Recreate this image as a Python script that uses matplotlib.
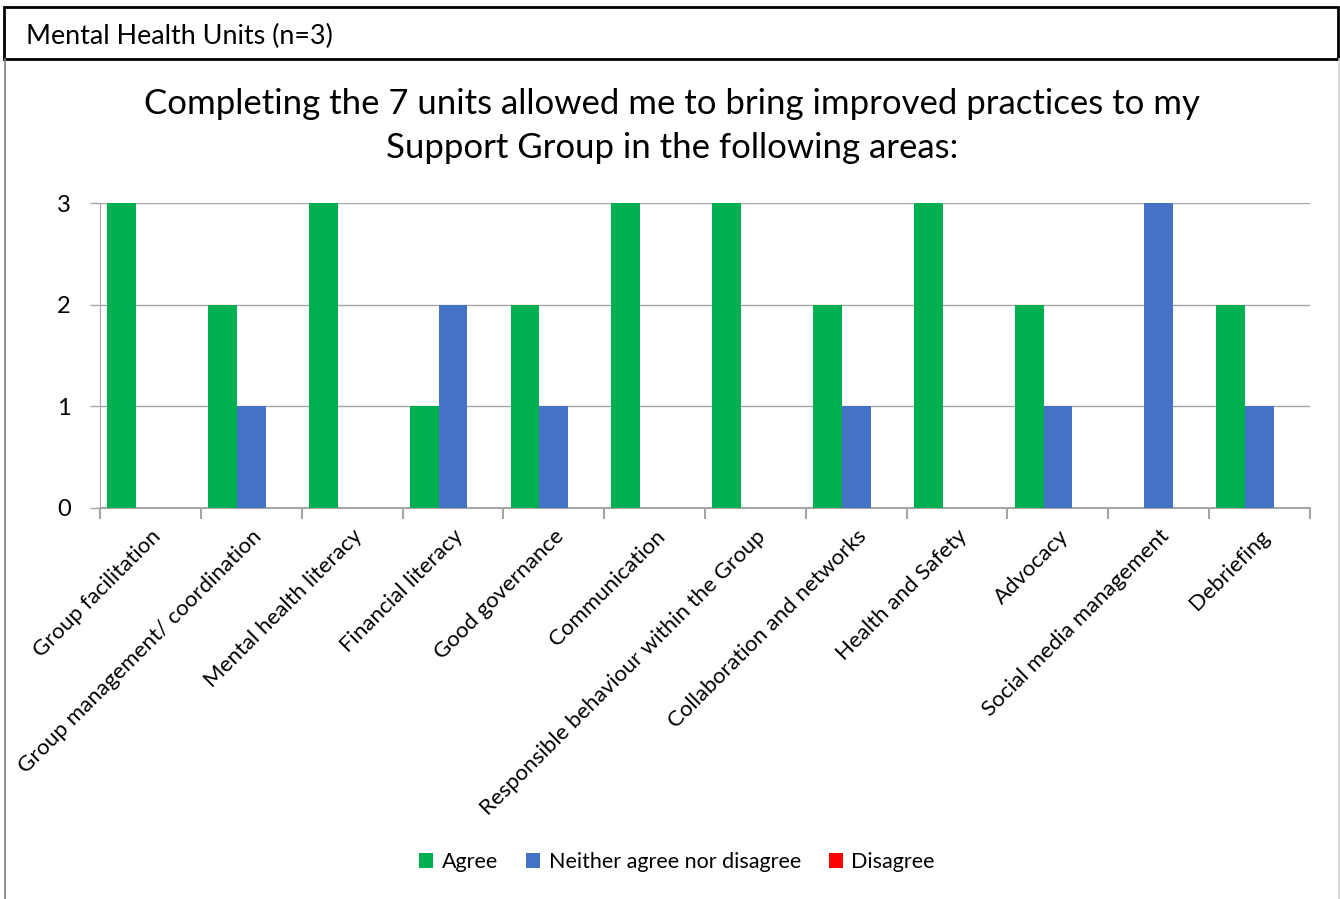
import matplotlib
matplotlib.use("Agg")
import matplotlib.pyplot as plt
from matplotlib.patches import Rectangle
from matplotlib.lines import Line2D
import numpy as np

plt.rcParams['font.family'] = ['Lato', 'DejaVu Sans']

categories = [
    "Group facilitation",
    "Group management/ coordination",
    "Mental health literacy",
    "Financial literacy",
    "Good governance",
    "Communication",
    "Responsible behaviour within the Group",
    "Collaboration and networks",
    "Health and Safety",
    "Advocacy",
    "Social media management",
    "Debriefing",
]
agree = [3, 2, 3, 1, 2, 3, 3, 2, 3, 2, 0, 2]
neither = [0, 1, 0, 2, 1, 0, 0, 1, 0, 1, 3, 1]
disagree = [0, 0, 0, 0, 0, 0, 0, 0, 0, 0, 0, 0]

series_names = ["Agree", "Neither agree nor disagree", "Disagree"]
series_colors = ["#00B050", "#4472C4", "#FF0000"]
yticks = [0, 1, 2, 3]

W, H = 1340, 899
fig = plt.figure(figsize=(W / 100, H / 100), dpi=100)

def fx(px):
    return px / W

def fy(py):
    return 1 - py / H

# header box
fig.patches.append(Rectangle((fx(4), fy(59)), fx(1338) - fx(4), fy(7) - fy(59),
                             transform=fig.transFigure, fill=False,
                             edgecolor="black", linewidth=2))
fig.text(fx(26), fy(36), "Mental Health Units (n=3)", fontsize=19.4,
         ha="left", va="center")
# chart frame sides
fig.add_artist(Line2D([fx(5), fx(5)], [fy(59), 0], transform=fig.transFigure,
                      color="#808080", linewidth=1.2))
fig.add_artist(Line2D([fx(1339), fx(1339)], [fy(59), 0], transform=fig.transFigure,
                      color="#D0D0D0", linewidth=1.2))

fig.text(fx(672), fy(126),
         "Completing the 7 units allowed me to bring improved practices to my\nSupport Group in the following areas:",
         fontsize=25, ha="center", va="center", linespacing=1.45)

ax = fig.add_axes([fx(100), fy(508), fx(1310) - fx(100), fy(203) - fy(508)])
x = np.arange(len(categories))
bw = 1 / 3.5
for i, (vals, name, col) in enumerate(zip([agree, neither, disagree], series_names, series_colors)):
    ax.bar(x + (i - 1) * bw, vals, width=bw, color=col, label=name, zorder=3)

ax.set_xlim(-0.5, len(categories) - 0.5)
ax.set_ylim(0, 3)
ax.set_yticks(yticks)
ax.set_yticklabels([str(v) for v in yticks], fontsize=17)
ax.grid(axis="y", color="#A6A6A6", linewidth=1, zorder=0)
ax.tick_params(axis="y", length=7, color="#A6A6A6", pad=14, width=1)

ax.set_xticks(np.arange(len(categories) + 1) - 0.5)
ax.set_xticklabels([])
ax.tick_params(axis="x", which="major", length=8, color="#A6A6A6", width=1.5)
ax.set_xticks(x, minor=True)
ax.set_xticklabels(categories, minor=True, rotation=45, ha="right", va="top",
                   rotation_mode="anchor", fontsize=16)
ax.tick_params(axis="x", which="minor", length=0, pad=13)

for s in ["top", "right"]:
    ax.spines[s].set_visible(False)
ax.spines["left"].set_color("#A6A6A6")
ax.spines["bottom"].set_color("#A6A6A6")
ax.spines["bottom"].set_linewidth(1.5)

fig.legend(loc="center", bbox_to_anchor=(fx(677), fy(862)), ncol=3,
           frameon=False, fontsize=15.5, handlelength=0.65, handleheight=0.65,
           handletextpad=0.4, columnspacing=1.3)

fig.savefig("out.png", dpi=100)
